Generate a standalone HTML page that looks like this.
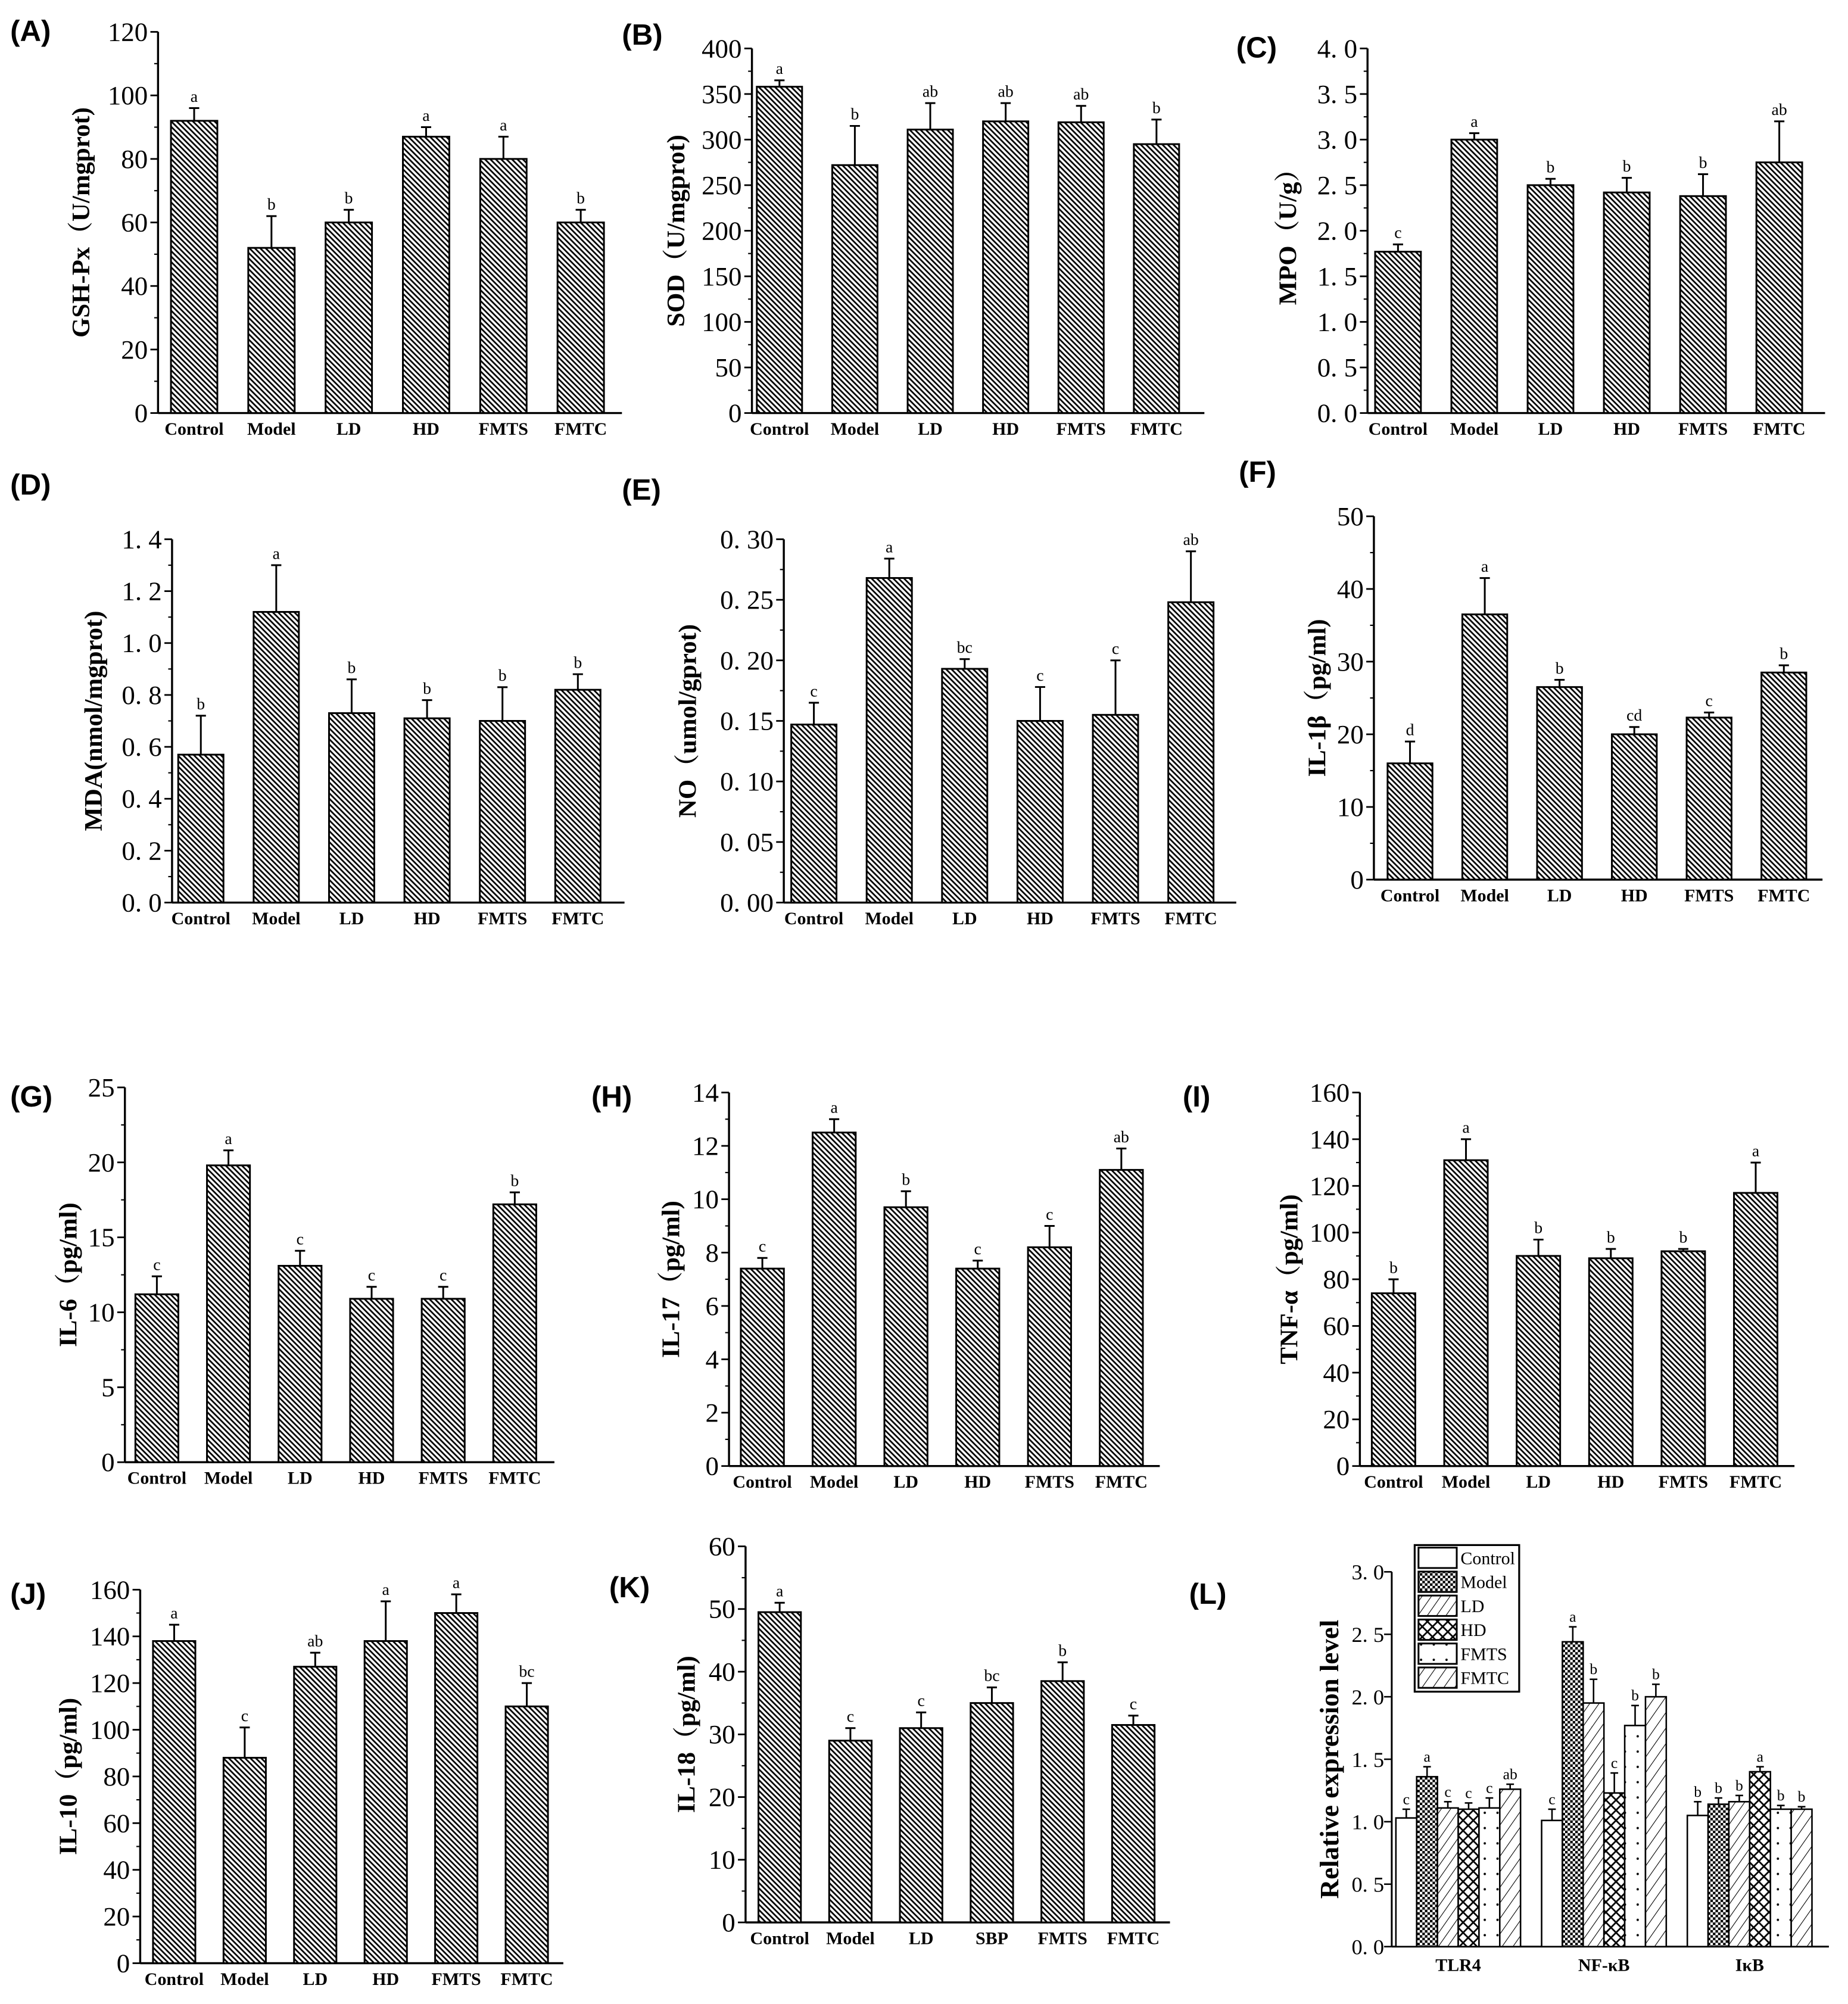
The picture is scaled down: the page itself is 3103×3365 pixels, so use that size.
<!DOCTYPE html>
<html><head><meta charset="utf-8"><style>
html,body{margin:0;padding:0;background:#fff;}
svg{display:block;}
text{font-family:"Liberation Serif","Noto Serif CJK SC",serif;}
.pl{font-family:"Liberation Sans",sans-serif;font-weight:bold;font-size:23px;}
.tk{font-size:21px;}
.cat{font-size:14px;font-weight:bold;}
.yt{font-size:20px;font-weight:bold;}
.sig{font-size:13px;}
</style></head><body>
<svg id="fig" width="3103" height="3365" viewBox="0 0 1450 1572" preserveAspectRatio="none" xmlns="http://www.w3.org/2000/svg">
<defs>
<pattern id="hatch" patternUnits="userSpaceOnUse" width="3" height="3" patternTransform="rotate(-45)">
<rect width="3" height="3" fill="#fff"/><line x1="0.7" y1="0" x2="0.7" y2="3" stroke="#000" stroke-width="1.3"/></pattern>
<pattern id="p-model" patternUnits="userSpaceOnUse" width="4" height="4"><rect width="4" height="4" fill="#fff"/><rect width="2" height="2" fill="#000"/><rect x="2" y="2" width="2" height="2" fill="#000"/></pattern>
<pattern id="p-ld" patternUnits="userSpaceOnUse" width="6" height="6" patternTransform="rotate(35)"><rect width="6" height="6" fill="#fff"/><line x1="0" y1="0" x2="0" y2="6" stroke="#000" stroke-width="1"/></pattern>
<pattern id="p-hd" patternUnits="userSpaceOnUse" width="8" height="8"><rect width="8" height="8" fill="#fff"/><path d="M0 0L8 8M8 0L0 8" stroke="#000" stroke-width="1.3"/></pattern>
<pattern id="p-fmts" patternUnits="userSpaceOnUse" width="10" height="12"><rect width="10" height="12" fill="#fff"/><circle cx="5" cy="6" r="0.9" fill="#000"/></pattern>
<pattern id="p-fmtc" patternUnits="userSpaceOnUse" width="7" height="7" patternTransform="rotate(35)"><rect width="7" height="7" fill="#fff"/><line x1="0" y1="0" x2="0" y2="7" stroke="#000" stroke-width="1"/></pattern>
</defs>
</svg>
<script>
const svgNS="http://www.w3.org/2000/svg";
const fig=document.getElementById('fig');
// ---- data ----
const catsStd=["Control","Model","LD","HD","FMTS","FMTC"];
const catsK=["Control","Model","LD","SBP","FMTS","FMTC"];
const valsA=[92,52,60,87,80,60], errA=[96,62,64,90,87,64], sigA=["a","b","b","a","a","b"];
const ticksA=["0","20","40","60","80","100","120"];
const valsB=[358,272,311,320,319,295], errB=[365,315,340,340,337,322], sigB=["a","b","ab","ab","ab","b"];
const ticksB=["0","50","100","150","200","250","300","350","400"];
const valsC=[1.77,3.0,2.5,2.42,2.38,2.75], errC=[1.85,3.07,2.57,2.58,2.62,3.2], sigC=["c","a","b","b","b","ab"];
const ticksC=["0. 0","0. 5","1. 0","1. 5","2. 0","2. 5","3. 0","3. 5","4. 0"];
const valsD=[0.57,1.12,0.73,0.71,0.70,0.82], errD=[0.72,1.3,0.86,0.78,0.83,0.88], sigD=["b","a","b","b","b","b"];
const ticksD=["0. 0","0. 2","0. 4","0. 6","0. 8","1. 0","1. 2","1. 4"];
const valsE=[0.147,0.268,0.193,0.150,0.155,0.248], errE=[0.165,0.284,0.201,0.178,0.2,0.29], sigE=["c","a","bc","c","c","ab"];
const ticksE=["0. 00","0. 05","0. 10","0. 15","0. 20","0. 25","0. 30"];
const valsF=[16,36.5,26.5,20,22.3,28.5], errF=[19,41.5,27.5,21,23,29.5], sigF=["d","a","b","cd","c","b"];
const ticksF=["0","10","20","30","40","50"];
const valsG=[11.2,19.8,13.1,10.9,10.9,17.2], errG=[12.4,20.8,14.1,11.7,11.7,18.0], sigG=["c","a","c","c","c","b"];
const ticksG=["0","5","10","15","20","25"];
const valsH=[7.4,12.5,9.7,7.4,8.2,11.1], errH=[7.8,13.0,10.3,7.7,9.0,11.9], sigH=["c","a","b","c","c","ab"];
const ticksH=["0","2","4","6","8","10","12","14"];
const valsI=[74,131,90,89,92,117], errI=[80,140,97,93,93,130], sigI=["b","a","b","b","b","a"];
const ticksI=["0","20","40","60","80","100","120","140","160"];
const valsJ=[138,88,127,138,150,110], errJ=[145,101,133,155,158,120], sigJ=["a","c","ab","a","a","bc"];
const ticksJ=["0","20","40","60","80","100","120","140","160"];
const valsK=[49.5,29,31,35,38.5,31.5], errK=[51,31,33.5,37.5,41.5,33], sigK=["a","c","c","bc","b","c"];
const ticksK=["0","10","20","30","40","50","60"];
const genesL=["TLR4","NF-κB","IκB"];
const seriesL=["Control","Model","LD","HD","FMTS","FMTC"];
const valsL=[[1.03,1.36,1.11,1.10,1.11,1.26],[1.01,2.44,1.95,1.23,1.77,2.0],[1.05,1.14,1.16,1.40,1.10,1.10]];
const errL=[[0.07,0.08,0.05,0.05,0.08,0.04],[0.09,0.12,0.19,0.16,0.16,0.10],[0.11,0.05,0.05,0.04,0.03,0.02]];
const sigL=[["c","a","c","c","c","ab"],["c","a","b","c","b","b"],["b","b","b","a","b","b"]];
const ticksL=["0. 0","0. 5","1. 0","1. 5","2. 0","2. 5","3. 0"];

function el(tag,attrs,parent,txt){const e=document.createElementNS(svgNS,tag);for(const k in attrs)e.setAttribute(k,attrs[k]);if(txt!==undefined)e.textContent=txt;(parent||fig).appendChild(e);return e;}

function panel(p){
  const g=el('g',{});
  
  
  const ymax=parseFloat(p.ticks[p.ticks.length-1].replace(/\s/g,''));
  const ys=v=>p.y0-(v/ymax)*(p.y0-p.yt);
  const t=el('text',{x:p.lx,y:p.ly,class:'pl'},g,'('+p.id+')');
  
  
  el('line',{x1:p.x0,y1:p.yt,x2:p.x0,y2:p.y0,stroke:'#000','stroke-width':1.6},g);
  el('line',{x1:p.x0,y1:p.y0,x2:p.x1,y2:p.y0,stroke:'#000','stroke-width':1.6},g);
  const n=p.ticks.length;
  for(let i=0;i<n;i++){
    const v=ymax*i/(n-1), y=ys(v);
    el('line',{x1:p.x0-6,y1:y,x2:p.x0,y2:y,stroke:'#000','stroke-width':1.3},g);
    if(i<n-1){const ym=ys(v+ymax/(n-1)/2);el('line',{x1:p.x0-3,y1:ym,x2:p.x0,y2:ym,stroke:'#000','stroke-width':1},g);}
    const tl=el('text',{x:p.x0-8,y:y+7,'text-anchor':'end',class:'tk'},g,p.ticks[i]);
    
    
  }
  const yt=el('text',{x:0,y:0,class:'yt','text-anchor':'middle',transform:`translate(${p.tx},${(p.yt+p.y0)/2}) rotate(-90)`},g,p.title);
  
  
  const step=(p.x1-p.x0)/p.cats.length, bw=step*0.6;
  p.cats.forEach((c,i)=>{
    const cx=p.x0+step*(i+0.5)+(p.shift||0);
    const y=ys(p.vals[i]), ye=ys(p.errs[i]);
    el('line',{x1:cx,y1:y,x2:cx,y2:ye,stroke:'#000','stroke-width':1.4},g);
    el('line',{x1:cx-4,y1:ye,x2:cx+4,y2:ye,stroke:'#000','stroke-width':1.4},g);
    const b=el('rect',{x:cx-bw/2,y:y,width:bw,height:p.y0-y,fill:'url(#hatch)',stroke:'#000','stroke-width':1.4},g);
    
    
    const s=el('text',{x:cx,y:ye-5,'text-anchor':'middle',class:'sig'},g,p.sigs[i]);
    
    
    const cl=el('text',{x:cx,y:p.y0+17,'text-anchor':'middle',class:'cat'},g,c);
    
    
  });
}
panel({id:'A',lx:8,ly:32,x0:124,x1:488,yt:25,y0:324,ticks:ticksA,cats:catsStd,vals:valsA,errs:errA,sigs:sigA,title:"GSH-Px（U/mgprot)",tx:70,shift:-2});
panel({id:'B',lx:488,ly:35,x0:590,x1:945,yt:38,y0:324,ticks:ticksB,cats:catsStd,vals:valsB,errs:errB,sigs:sigB,title:"SOD（U/mgprot)",tx:537,shift:-8});
panel({id:'C',lx:970,ly:45,x0:1073,x1:1432,yt:38,y0:324,ticks:ticksC,cats:catsStd,vals:valsC,errs:errC,sigs:sigC,title:"MPO（U/g）",tx:1017,shift:-6});
panel({id:'D',lx:8,ly:388,x0:135,x1:490,yt:423,y0:708,ticks:ticksD,cats:catsStd,vals:valsD,errs:errD,sigs:sigD,title:"MDA(nmol/mgprot)",tx:80,shift:-7});
panel({id:'E',lx:488,ly:392,x0:615,x1:970,yt:423,y0:708,ticks:ticksE,cats:catsStd,vals:valsE,errs:errE,sigs:sigE,title:"NO（umol/gprot)",tx:546,shift:-6});
panel({id:'F',lx:972,ly:378,x0:1078,x1:1430,yt:405,y0:690,ticks:ticksF,cats:catsStd,vals:valsF,errs:errF,sigs:sigF,title:"IL-1β（pg/ml)",tx:1040,shift:-1});
panel({id:'G',lx:8,ly:868,x0:98,x1:435,yt:853,y0:1147,ticks:ticksG,cats:catsStd,vals:valsG,errs:errG,sigs:sigG,title:"IL-6（pg/ml)",tx:60,shift:-3});
panel({id:'H',lx:464,ly:868,x0:572,x1:910,yt:857,y0:1150,ticks:ticksH,cats:catsStd,vals:valsH,errs:errH,sigs:sigH,title:"IL-17（pg/ml)",tx:533,shift:-2});
panel({id:'I',lx:928,ly:868,x0:1067,x1:1408,yt:857,y0:1150,ticks:ticksI,cats:catsStd,vals:valsI,errs:errI,sigs:sigI,title:"TNF-α（pg/ml)",tx:1018,shift:-2});
panel({id:'J',lx:8,ly:1258,x0:110,x1:442,yt:1247,y0:1540,ticks:ticksJ,cats:catsStd,vals:valsJ,errs:errJ,sigs:sigJ,title:"IL-10（pg/ml)",tx:60,shift:-1});
panel({id:'K',lx:478,ly:1253,x0:585,x1:918,yt:1213,y0:1508,ticks:ticksK,cats:catsK,vals:valsK,errs:errK,sigs:sigK,title:"IL-18（pg/ml)",tx:545,shift:-1});

(function(){
  const g=el('g',{});
  
  
  const x0=1092,x1=1435,yt=1233,y0=1527,ymax=3;
  const ys=v=>y0-(v/ymax)*(y0-yt);
  const fills=['#fff','url(#p-model)','url(#p-ld)','url(#p-hd)','url(#p-fmts)','url(#p-fmtc)'];
  const t=el('text',{x:933,y:1258,class:'pl'},g,'(L)');
  
  
  el('line',{x1:x0,y1:yt,x2:x0,y2:y0,stroke:'#000','stroke-width':1.4},g);
  el('line',{x1:x0,y1:y0,x2:x1,y2:y0,stroke:'#000','stroke-width':1.4},g);
  ticksL.forEach((s,i)=>{const v=ymax*i/(ticksL.length-1),y=ys(v);
    el('line',{x1:x0-6,y1:y,x2:x0,y2:y,stroke:'#000','stroke-width':1.2},g);
    const tl=el('text',{x:x0-6,y:y+6,'text-anchor':'end',style:'font-size:17px'},g,s);
    
    });
  const yt2=el('text',{x:0,y:0,'text-anchor':'middle',style:'font-size:21px;font-weight:bold',transform:`translate(1050,1380) rotate(-90)`},g,'Relative expression level');
  
  
  const gstep=(x1-x0)/genesL.length, bw=16.3;
  genesL.forEach((gn,gi)=>{
    const gc=x0+gstep*(gi+0.5)-5;
    const gs=gc-bw*3;
    valsL[gi].forEach((v,si)=>{
      const bx=gs+si*bw, y=ys(v), ye=ys(v+errL[gi][si]), cx=bx+bw/2;
      el('line',{x1:cx,y1:y,x2:cx,y2:ye,stroke:'#000','stroke-width':1.2},g);
      el('line',{x1:cx-3,y1:ye,x2:cx+3,y2:ye,stroke:'#000','stroke-width':1.2},g);
      const b=el('rect',{x:bx,y:y,width:bw,height:y0-y,fill:fills[si],stroke:'#000','stroke-width':1.2},g);
      
      
      const s=el('text',{x:cx,y:ye-4,'text-anchor':'middle',style:'font-size:12px'},g,sigL[gi][si]);
      
      
    });
    const cl=el('text',{x:gc,y:y0+19,'text-anchor':'middle',class:'cat'},g,gn);
    
    
  });
  const lg=el('g',{},g);
  
  
  el('rect',{x:1110,y:1212,width:82,height:115,fill:'#fff',stroke:'#000','stroke-width':1.5},lg);
  seriesL.forEach((s,i)=>{const y=1214+i*18.8;
    el('rect',{x:1113,y:y,width:30,height:16,fill:fills[i],stroke:'#000','stroke-width':1.4},lg);
    const lt=el('text',{x:1146,y:y+13,style:'font-size:14px'},lg,s);
    
    });
})();
</script>
</body></html>
